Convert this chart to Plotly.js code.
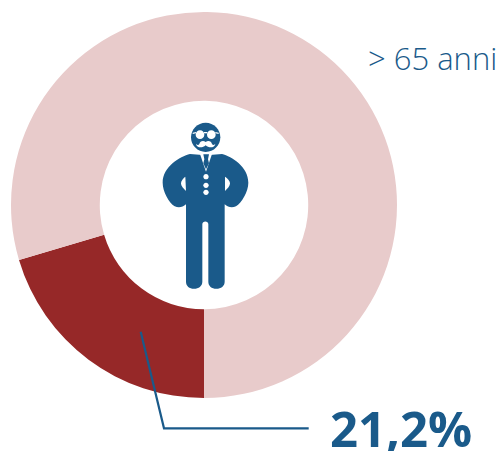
<!DOCTYPE html>
<html>
<head>
<meta charset="utf-8">
<script src="https://cdn.plot.ly/plotly-3.0.1.min.js"></script>
<style>html,body{margin:0;padding:0;background:#fff}#c{width:501px;height:451px}</style>
</head>
<body>
<div id="c"></div>
<script>
const categories = ["> 65 anni", "Altri"];
const values = [20.4, 79.6];
const sliceColors = ["#962828", "#e8cbcb"];
const blue = "#1a5a8a";
const W = 501, H = 451;

function pathPx(segs, scale, ox, oy) {
  return segs.replace(/(-?[\d.]+),(-?[\d.]+)/g, function (_, a, b) {
    const x = (+a) / scale + ox, y = (+b) / scale + oy;
    return (x / W).toFixed(5) + "," + (1 - y / H).toFixed(5);
  });
}
function icon(d, fill) {
  return {type: "path", xref: "paper", yref: "paper", path: pathPx(d, 3, 140, 110),
          fillcolor: fill, line: {width: 0}, layer: "above"};
}
function circ(cx, cy, r) {
  const k = 0.5523 * r;
  return `M${cx - r},${cy} C${cx - r},${cy - k} ${cx - k},${cy - r} ${cx},${cy - r} ` +
         `C${cx + k},${cy - r} ${cx + r},${cy - k} ${cx + r},${cy} ` +
         `C${cx + r},${cy + k} ${cx + k},${cy + r} ${cx},${cy + r} ` +
         `C${cx - k},${cy + r} ${cx - r},${cy + k} ${cx - r},${cy} Z`;
}
const body = "M150,132 L178,134 L198,136 L218,134 L246,132 " +
  "C275,140 325,170 325,218 C325,245 305,278 288,289 C276,294 264,292 254,283 L254,515 " +
  "C254,528 243,536 229,536 C215,536 205,528 205,515 L205,343 C205,332 187,332 187,343 L187,515 " +
  "C187,528 176,536 162,536 C148,536 138,528 138,515 L138,283 C128,292 116,294 104,289 " +
  "C87,278 68,245 68,218 C68,170 120,140 150,132 Z";
const shapes = [
  icon(body, blue),
  icon(circ(197, 82, 44), blue),
  icon(circ(180, 74, 13), "#fff"),
  icon(circ(214, 74, 13), "#fff"),
  icon("M192,66 L202,66 L202,70 L192,70 Z", "#fff"),
  icon("M158,68 L168,66 L168,70 L158,72 Z", "#fff"),
  icon("M226,66 L236,68 L236,72 L226,70 Z", "#fff"),
  icon("M197,96 C188,90 180,95 178,102 C175,107 172,106 168,101 C168,110 180,114 188,111 C192,110 195,108 197,106 C199,108 202,110 206,111 C214,114 226,110 226,101 C222,106 219,107 216,102 C214,95 206,90 197,96 Z", "#fff"),
  icon("M180,132 L216,132 L198,185 Z", "#fff"),
  icon("M190,133 L207,133 L204,148 L207,160 L198,178 L190,160 L193,148 Z", blue),
  icon(circ(198, 200, 8), "#fff"),
  icon(circ(198, 226, 8), "#fff"),
  icon(circ(198, 247, 8), "#fff"),
  icon("M136,200 L138,243 C130,236 123,228 123,220 C123,212 130,205 136,200 Z", "#fff"),
  icon("M255,200 L255,243 C263,236 270,228 270,220 C270,212 262,205 255,200 Z", "#fff"),
  {type: "path", xref: "paper", yref: "paper", layer: "above",
   path: pathPx("M140.7,331.7 L164,428.3 L308.7,428.3", 1, 0, 0),
   line: {color: blue, width: 2.2}, fillcolor: "rgba(0,0,0,0)"}
];

const data = [{
  type: "pie", labels: categories, values: values, sort: false,
  direction: "clockwise", rotation: 180, hole: 0.54,
  textinfo: "none", hoverinfo: "none",
  marker: {colors: sliceColors, line: {width: 0}},
  domain: {x: [11 / W, 397 / W], y: [1 - 398 / H, 1 - 12 / H]}
}];

const layout = {
  width: W, height: H, margin: {l: 0, r: 0, t: 0, b: 0},
  paper_bgcolor: "#fff", showlegend: false, shapes: shapes,
  annotations: [
    {xref: "paper", yref: "paper", x: 499 / W, y: 1 - 58 / H, xanchor: "right", yanchor: "middle",
     showarrow: false, text: "&gt; 65 anni", font: {family: "Open Sans", size: 31, weight: 300, color: blue}},
    {xref: "paper", yref: "paper", x: 328 / W, y: 1 - 428 / H, xanchor: "left", yanchor: "middle",
     showarrow: false, text: "<b>21,2%</b>", font: {family: "Open Sans", size: 49, color: blue}}
  ]
};
Plotly.newPlot("c", data, layout, {displayModeBar: false, staticPlot: true});
</script>
</body>
</html>
